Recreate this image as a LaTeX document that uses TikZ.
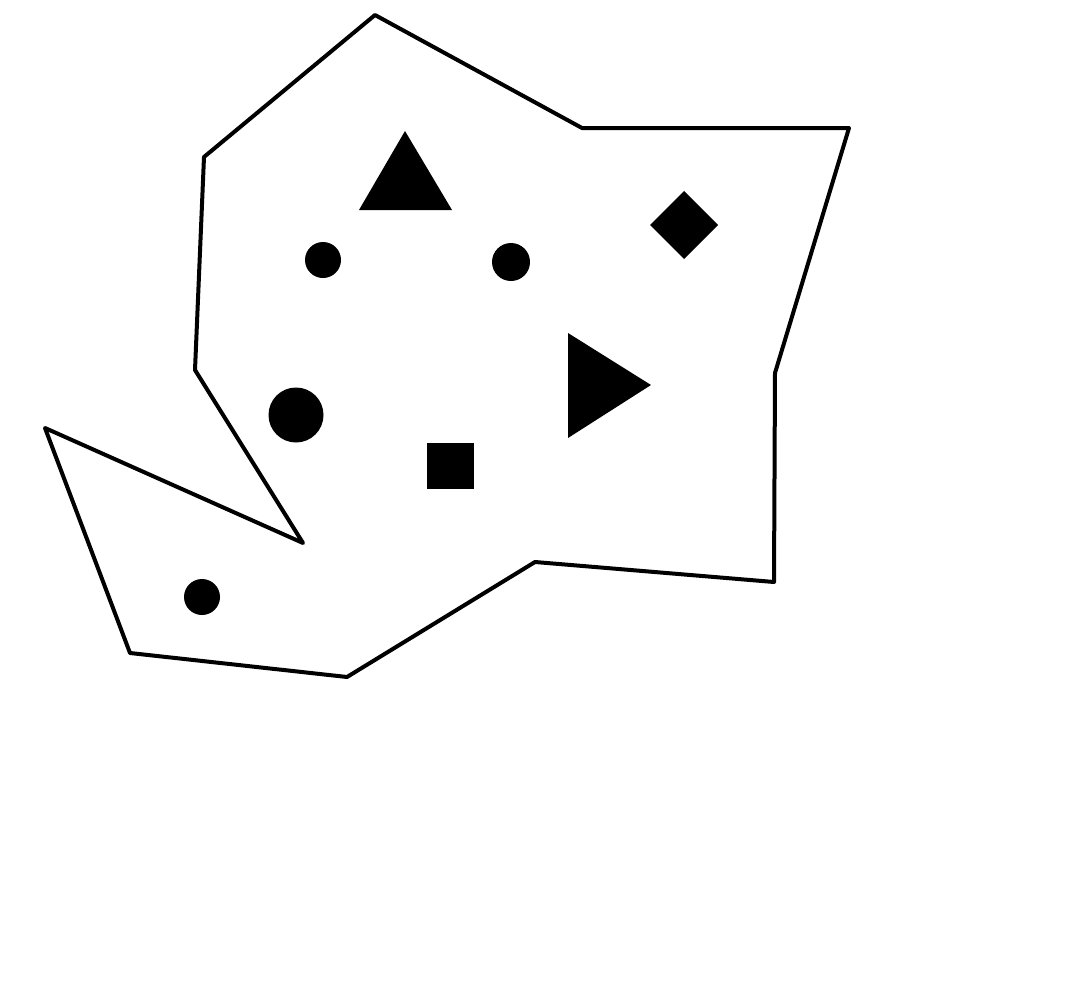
\documentclass[tikz,border=0pt]{standalone}
\begin{document}
\begin{tikzpicture}[x=1pt,y=-1pt,
  outline/.style={draw=black,line width=4pt,line join=round,line cap=round},
  blob/.style={fill=black,draw=none}]
\useasboundingbox[fill=white] (0,0) rectangle (1080,1004);
\draw[outline] (375,15) -- (582,128) -- (849,128) -- (775,373) -- (774,582) -- (535,562) -- (347,677) -- (130,653) -- (45,428) -- (303,543) -- (195,370) -- (204,157) -- cycle;
\fill[blob] (405,131) -- (452,210) -- (359,210) -- cycle;
\fill[blob] (323,260) circle (18);
\fill[blob] (511,262) circle (19);
\fill[blob] (684,191) -- (718,225) -- (684,259) -- (650,225) -- cycle;
\fill[blob] (568,333) -- (651,385) -- (568,438) -- cycle;
\fill[blob] (296,415) circle (27.5);
\fill[blob] (427,443) rectangle (474,489);
\fill[blob] (202,597) circle (18);
\end{tikzpicture}
\end{document}
